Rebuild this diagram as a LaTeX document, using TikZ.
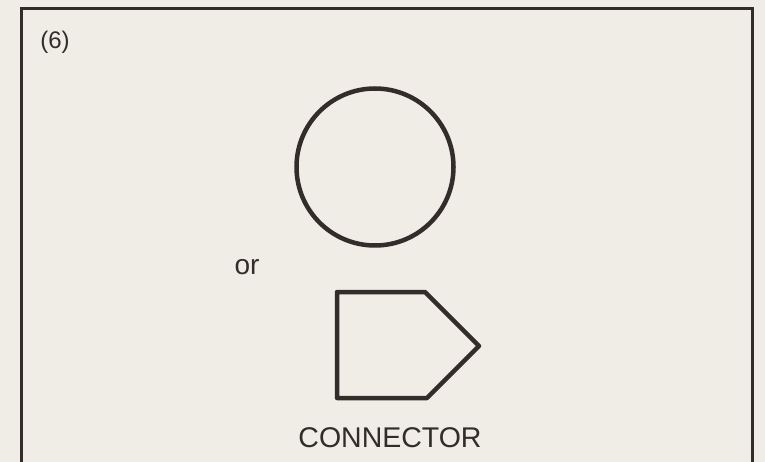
\documentclass[tikz,border=0pt]{standalone}
\usepackage{fontspec}
\setmainfont{Liberation Sans}
\definecolor{paper}{RGB}{240,236,230}
\definecolor{ink}{RGB}{50,45,42}
\begin{document}
\begin{tikzpicture}[x=1pt,y=-1pt,
  shapeline/.style={draw=ink,line width=4.5pt,line join=round},
  lbl/.style={text=ink,inner sep=0pt,font=\fontsize{28}{30}\selectfont}]
\clip (0,0) rectangle (765,462);
\fill[paper] (0,0) rectangle (765,462);
\draw[draw=ink,line width=3.2pt] (21.5,8.5) rectangle (752.5,480);
\node[lbl,font=\fontsize{24}{26}\selectfont] (num) at (55,42) {(6)};
\node[shapeline,circle,minimum size=157pt,inner sep=0pt] (circ) at (375,167) {};
\node[lbl] (or) at (247,267) {or};
\coordinate (p1) at (337,292);
\coordinate (p2) at (425,292);
\coordinate (p3) at (479,346);
\coordinate (p4) at (427,398);
\coordinate (p5) at (337,398);
\draw[shapeline] (p1) -- (p2) -- (p3) -- (p4) -- (p5) -- cycle;
\node[lbl,font=\fontsize{28.5}{30}\selectfont] (conn) at (390,438) {CONNECTOR};
\end{tikzpicture}
\end{document}
